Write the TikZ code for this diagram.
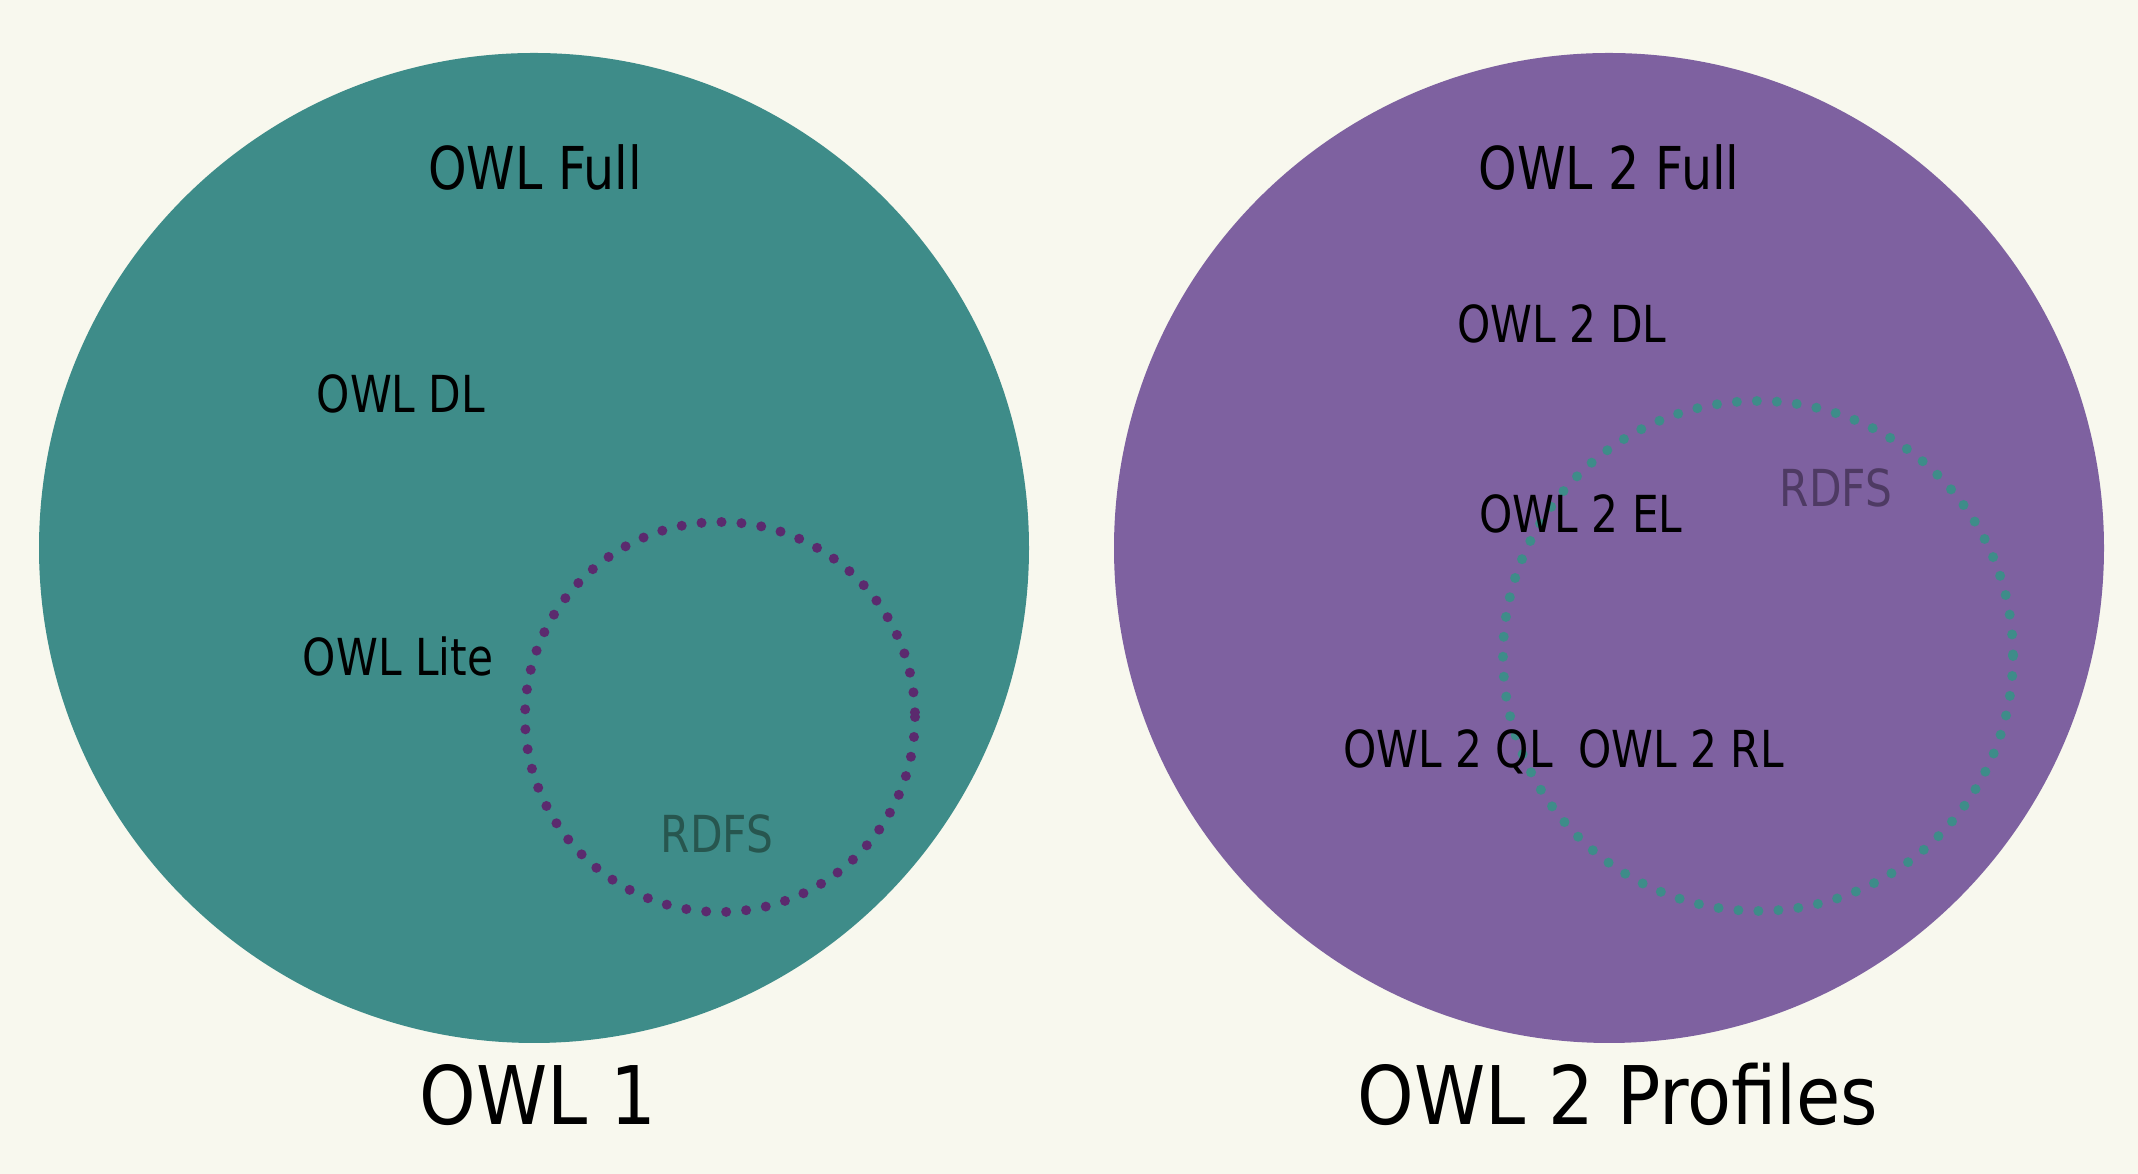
\documentclass[tikz,border=0pt]{standalone}
\usepackage{fontspec}
\setmainfont{DejaVu Sans}
\newfontfamily\owlfont{DejaVu Sans}[FakeStretch=0.83]
\newfontfamily\owltitlefont{DejaVu Sans}[FakeStretch=0.89]
\usepackage{tikz}

\definecolor{paper}{HTML}{F8F8EE}
\definecolor{owlteal}{HTML}{3E8C89}
\definecolor{owlpurple}{HTML}{7E61A0}
\definecolor{dotpurple}{HTML}{5B2A6E}
\definecolor{rdfsteal}{HTML}{27564F}
\definecolor{rdfspurple}{HTML}{4E3A63}

\begin{document}
\begin{tikzpicture}[x=0.01cm,y=-0.01cm,
    lang/.style={anchor=base,inner sep=0pt,font=\owlfont\fontsize{14.5}{16}\selectfont},
    full/.style={anchor=base,inner sep=0pt,font=\owlfont\fontsize{16.8}{19}\selectfont},
    title/.style={anchor=base,inner sep=0pt,font=\owltitlefont\fontsize{23}{26}\selectfont},
    rdfsring/.style={line width=0.1cm,line cap=round,dash pattern=on 0pt off 0.2cm}]
   \fill[paper] (0,0) rectangle (2138,1174);
   \useasboundingbox (0,0) rectangle (2138,1174);

   % OWL 1
   \fill[owlteal] (534,548) circle (495);
   \draw[rdfsring,dotpurple] (720,717) circle (195);
   \node[full] (owlfull) at (535,190) {OWL Full};
   \node[lang] (owldl) at (401,413) {OWL DL};
   \node[lang] (owllite) at (398,676) {OWL Lite};
   \node[lang,text=rdfsteal] (rdfsone) at (717,853) {RDFS};
   \node[title] (owlone) at (538,1125) {OWL 1};

   % OWL 2
   \fill[owlpurple] (1609,548) circle (495);
   \draw[rdfsring,owlteal] (1758,656) circle (255);
   \node[full] (owltwofull) at (1609,190) {OWL 2 Full};
   \node[lang] (owltwodl) at (1562,343) {OWL 2 DL};
   \node[lang] (owltwoel) at (1581,533) {OWL 2 EL};
   \node[lang,text=rdfspurple] (rdfstwo) at (1836,507) {RDFS};
   \node[lang] (owltwoql) at (1448,768) {OWL 2 QL};
   \node[lang] (owltworl) at (1681,768) {OWL 2 RL};
   \node[title] (owltwo) at (1618,1125) {OWL 2 Profiles};
\end{tikzpicture}
\end{document}
